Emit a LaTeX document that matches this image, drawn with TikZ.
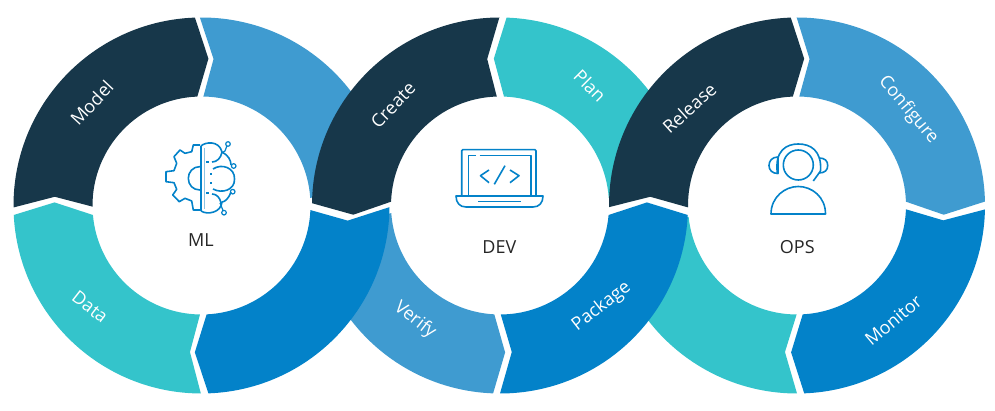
\documentclass[tikz,border=0pt]{standalone}
\usepackage{fontspec}
\setmainfont{Open Sans}
\definecolor{navyseg}{HTML}{17374A}
\definecolor{skyseg}{HTML}{3F9BD0}
\definecolor{tealseg}{HTML}{34C4CB}
\definecolor{blueseg}{HTML}{0382C9}
\tikzset{
  seglabel/.style={text=white, font=\fontsize{18}{20}\selectfont},
  hublabel/.style={text=black!85, font=\fontsize{18}{20}\selectfont},
  icon/.style={draw=blueseg, line width=1.6pt, line join=round}
}
\begin{document}
\begin{tikzpicture}[x=1pt, y=1pt]
  \useasboundingbox (0,0) rectangle (995,411);
  % ring pieces, back to front
  \foreach \cx/\col/\oa/\ma/\ia/\ib/\mb/\ob in {
    201.5/skyseg/90.5/85.3/89/4/5/4,
    201.5/navyseg/180.6/176.6/180.6/92.2/87.3/92,
    201.5/tealseg/269.8/265.5/269.2/185/178.8/182.9,
    500/skyseg/267.9/272/267/184/187/187,
    201.5/blueseg/-0.5/-5.9/-2.4/-87.3/-92.6/-87.9,
    500/navyseg/179.3/183.6/178/91.7/95/90.2,
    500/tealseg/88/92.4/87.9/4/5/4,
    797/navyseg/180.5/176.6/181/92.2/87.2/91.9,
    797/tealseg/270/265.3/269.8/186/187/187,
    500/blueseg/-2.9/1.2/-5/-89.6/-85.4/-90,
    797/skyseg/90.1/85.1/88.8/2/-3.6/1.2,
    797/blueseg/-1.2/-5.8/-2/-87/-92.3/-87.8} {
    \fill[\col, shift={(\cx,205.5)}] (\oa:188pt)
      arc[start angle=\oa, end angle=\ob, radius=188pt]
      -- (\mb:147pt) -- (\ib:109pt)
      arc[start angle=\ib, end angle=\ia, radius=109pt]
      -- (\ma:147pt) -- cycle;
  }
  % labels on the ring
  \foreach \nm/\px/\py/\rot in {
    Model/91.7/308/47, Data/90/104/-38,
    Create/393/306/46, Plan/590/325/-45, Verify/415/91/-38, Package/601.7/104.3/38,
    Release/689.3/303/42, Configure/908.3/301/-50, Monitor/893.3/91/40} {
    \node[seglabel, rotate=\rot] (\nm) at (\px,\py) {\nm};
  }
  \node[hublabel] (ml) at (201,171) {ML};
  \node[hublabel] (dev) at (499.3,164.3) {DEV};
  \node[hublabel] (ops) at (797.3,164.3) {OPS};
  % icons, in picture pixels
  \begin{scope}[shift={(0,411)}, yscale=-1]
    % gear and brain
    \draw[icon] (200,145) -- (193.3,145) -- (191.7,151.7) -- (185,153.3) -- (180,150)
      -- (174,156.7) -- (176.7,163.3) -- (174,170.7) -- (166,171.7) -- (166,181.7)
      -- (174,182.7) -- (176.7,189.3) -- (172.7,195) -- (179.3,201.7) -- (185,198.3)
      -- (191.7,201) -- (193.3,210) -- (201,210);
    \draw[icon] (200,166.6) .. controls (193,166.6) and (188.3,172) .. (188.3,178.3)
      .. controls (188.3,185) and (193,190) .. (200,190);
    \draw[icon] (201,146) -- (201,211);
    \draw[skyseg!60, line width=1pt] (204,148) -- (204,209);
    \draw[icon] (201,146) .. controls (205,142) and (219,140) .. (222,152)
      .. controls (228,155) and (231,160) .. (231,165);
    \draw[icon] (213,169) .. controls (222,163) and (235,168) .. (234.5,179)
      .. controls (235,190) and (222,194) .. (213,189);
    \draw[icon] (231,192) .. controls (229,198) and (225,202) .. (222,202)
      .. controls (221,213) and (207,215) .. (201,211);
    \draw[icon] (222,152) .. controls (221,158) and (217,162) .. (212,162);
    \draw[icon] (206,162) -- (208.5,162);
    \draw[icon] (221,203) .. controls (220,198) and (217,194) .. (212,194);
    \draw[icon] (206,193) -- (208.5,193);
    \draw[icon] (210.7,173) -- (210.7,175);
    \draw[icon] (210.7,182.3) -- (210.7,184.3);
    \draw[icon, line width=1.2pt] (228,144) circle (2.3pt) (226.7,146.5) -- (225,151) -- (221.7,153);
    \draw[icon, line width=1.2pt] (233.7,166) circle (2.3pt);
    \draw[icon, line width=1.2pt] (232.7,191.7) circle (2.3pt);
    \draw[icon, line width=1.2pt] (224,212.7) circle (2.3pt) (223,210.5) -- (220,203);
    % laptop
    \draw[icon, rounded corners=1pt] (461.7,195.7) -- (461.7,149.7) -- (536,149.7) -- (536,195.7);
    \draw[icon] (476,155.5) -- (468.3,155.5) -- (468.3,195.7);
    \draw[icon] (479.5,155.5) -- (530.7,155.5) -- (530.7,195.7);
    \draw[icon] (456,196) -- (543,196) .. controls (543,203) and (539,207) .. (533,207)
      -- (466,207) .. controls (460,207) and (456,203) .. (456,196) -- cycle;
    \draw[icon] (478.3,201.7) -- (520.7,201.7);
    \draw[icon] (489,170) -- (480.5,175.7) -- (489,182.7);
    \draw[icon] (505,165.7) -- (494.3,184.3);
    \draw[icon] (510,170) -- (519,175.7) -- (510,182.7);
    % headset
    \draw[icon] (798.3,165) circle (15pt);
    \draw[icon] (777.5,174) .. controls (774,150) and (787,144) .. (798.3,144)
      .. controls (810,144) and (822,150) .. (820.5,171) -- (813.3,181);
    \draw[icon] (778,157) .. controls (772,157) and (769,161) .. (769,165.5)
      .. controls (769,170) and (772,173.5) .. (778,173.5) -- cycle;
    \draw[icon] (819,158) .. controls (825,158) and (827.7,161) .. (827.7,165.5)
      .. controls (827.7,170) and (825,173) .. (819,173);
    \draw[icon] (771,214) .. controls (771,197) and (785,186.5) .. (798.2,186.5)
      .. controls (812,186.5) and (825.5,197) .. (825.5,214) -- cycle;
  \end{scope}
\end{tikzpicture}
\end{document}
